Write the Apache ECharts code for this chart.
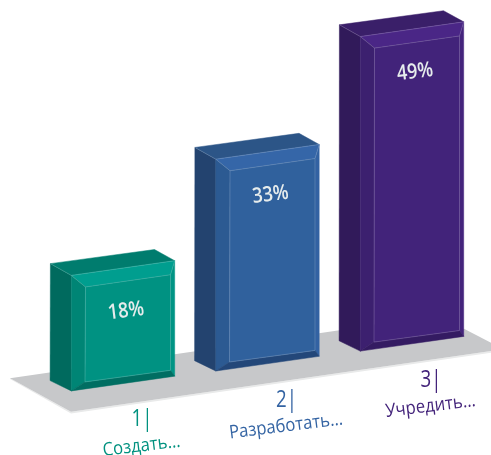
<!DOCTYPE html>
<html>
<head>
<meta charset="utf-8">
<style>html,body{margin:0;padding:0;background:#fff}#chart{width:491px;height:455px}</style>
<script src="https://cdn.jsdelivr.net/npm/echarts@6/dist/echarts.min.js"></script>
</head>
<body>
<div id="chart"></div>
<script>
// Chart data
const categories = ['Создать…', 'Разработать…', 'Учредить…'];
const numbers = ['1', '2', '3'];
const percentages = [18, 33, 49];

// Face colours of each box: side, top back, top bevel, left bevel, right bevel, bottom bevel, front
const facePalette = [
  ['#006a5e', '#007c6e', '#009e8f', '#008575', '#009484', '#006e62', '#009282'],
  ['#23436f', '#2c5587', '#3566a8', '#2c5a92', '#3362a2', '#234779', '#30619d'],
  ['#311a5a', '#3a1f69', '#4a2686', '#3c206f', '#44247c', '#341b62', '#42237a']
];
const textColours = ['#00917f', '#3464a3', '#43237a'];

// Drift of the floor line per pixel to the right
const FLOOR_SLOPE = -0.1377;
const LABEL_FONT = '"Open Sans", "Noto Sans", sans-serif';

// Box outline, as offsets from the centre of the front face's top or bottom edge
const topShape = {
  backL: [-72.6, -4.4], backR: [31.5, -18.5], frontL: [-51.7, 7.35], frontR: [51.7, -7.35],
  innerL: [-37.5, 18.9], innerR: [47.5, 6.7]
};
const bottomShape = {
  side: [-72.9, -3], frontL: [-51.7, 7.3], frontR: [51.7, -7.4],
  innerL: [-38, -1.7], innerR: [47.5, -13.3]
};

function floorOffset(api, idx) {
  return (api.coord([idx, 0])[0] - api.coord([1, 0])[0]) * FLOOR_SLOPE;
}

function renderFloor(params, api) {
  const c = api.coord([1, 0]);
  const at = (dx, dy) => [c[0] + dx, c[1] + dy];
  const left = at(-257.5, 14.6), front = at(-196.5, 48), right = at(223.5, -12.7);
  const rimBelow = 1.8;
  return {
    type: 'group',
    silent: true,
    children: [
      { type: 'polygon', shape: { points: [
          [left[0], left[1]], [front[0], front[1]], [right[0], right[1]],
          [right[0], right[1] + rimBelow], [front[0], front[1] + rimBelow], [left[0], left[1] + 0.6]
        ] }, style: { fill: '#e9eaea' } },
      { type: 'polygon', shape: { points: [
          left, front, right, at(223.5, -21), at(196.5, -35), at(72, -33.5)
        ] }, style: { fill: '#c7c8ca' } }
    ]
  };
}

function renderBox(params, api) {
  const i = params.dataIndex;
  const value = api.value(1);
  const pal = facePalette[i];
  const drift = floorOffset(api, i);
  const topPt = api.coord([i, value]);
  const basePt = api.coord([i, 0]);
  const cx = topPt[0], ty = topPt[1] + drift, by = basePt[1] + drift;
  const T = k => [cx + topShape[k][0], ty + topShape[k][1]];
  const B = k => [cx + bottomShape[k][0], by + bottomShape[k][1]];
  const face = (pts, fill) => ({
    type: 'polygon', shape: { points: pts },
    style: { fill: fill, stroke: fill, lineWidth: 0.5 }
  });
  const edge = (a, b) => ({
    type: 'line', shape: { x1: a[0], y1: a[1], x2: b[0], y2: b[1] },
    style: { stroke: 'rgba(255,255,255,0.24)', lineWidth: 0.7 }
  });
  const labelRot = 7 * Math.PI / 180;
  return {
    type: 'group',
    children: [
      face([T('backL'), T('frontL'), B('frontL'), B('side')], pal[0]),
      face([T('backL'), T('backR'), T('frontR'), T('frontL')], pal[1]),
      face([T('frontL'), T('frontR'), T('innerR'), T('innerL')], pal[2]),
      face([T('frontL'), T('innerL'), B('innerL'), B('frontL')], pal[3]),
      face([T('frontR'), B('frontR'), B('innerR'), T('innerR')], pal[4]),
      face([B('frontL'), B('innerL'), B('innerR'), B('frontR')], pal[5]),
      face([T('innerL'), T('innerR'), B('innerR'), B('innerL')], pal[6]),
      edge(T('backL'), T('frontL')),
      edge(T('frontL'), T('frontR')),
      edge(T('innerL'), T('innerR')),
      edge(T('frontL'), T('innerL')),
      edge(T('frontR'), T('innerR')),
      edge(T('innerL'), B('innerL')),
      edge(T('innerR'), B('innerR')),
      edge(B('innerL'), B('innerR')),
      {
        type: 'text', x: cx + 3, y: ty + 43, rotation: labelRot, scaleX: 0.86,
        style: {
          text: percentages[i] + '%', fill: '#e6ecec', align: 'center', verticalAlign: 'middle',
          font: '600 21px ' + LABEL_FONT
        }
      },
      {
        type: 'text', x: cx + 19, y: by + 36, scaleX: 0.78,
        style: {
          text: numbers[i] + '|', fill: textColours[i], align: 'center', verticalAlign: 'middle',
          font: '400 24px ' + LABEL_FONT
        }
      },
      {
        type: 'text', x: cx + 18.5, y: by + 62.5, rotation: labelRot, scaleX: 0.9,
        style: {
          text: categories[i], fill: textColours[i], align: 'center', verticalAlign: 'middle',
          font: '400 18.5px ' + LABEL_FONT
        }
      }
    ]
  };
}

const chart = echarts.init(document.getElementById('chart'), null, { renderer: 'canvas' });
chart.setOption({
  animation: false,
  backgroundColor: '#ffffff',
  grid: { left: 50.75, width: 433.5, top: 42.7, height: 321 },
  xAxis: { type: 'category', data: categories, show: false },
  yAxis: { type: 'value', min: 0, max: 50, show: false },
  series: [
    { type: 'custom', clip: false, renderItem: renderFloor, data: [[1, 0]], silent: true, z: 1 },
    {
      type: 'custom', clip: false, renderItem: renderBox, z: 2,
      encode: { x: 0, y: 1 },
      data: percentages.map((v, i) => [i, v])
    }
  ]
});
</script>
</body>
</html>
